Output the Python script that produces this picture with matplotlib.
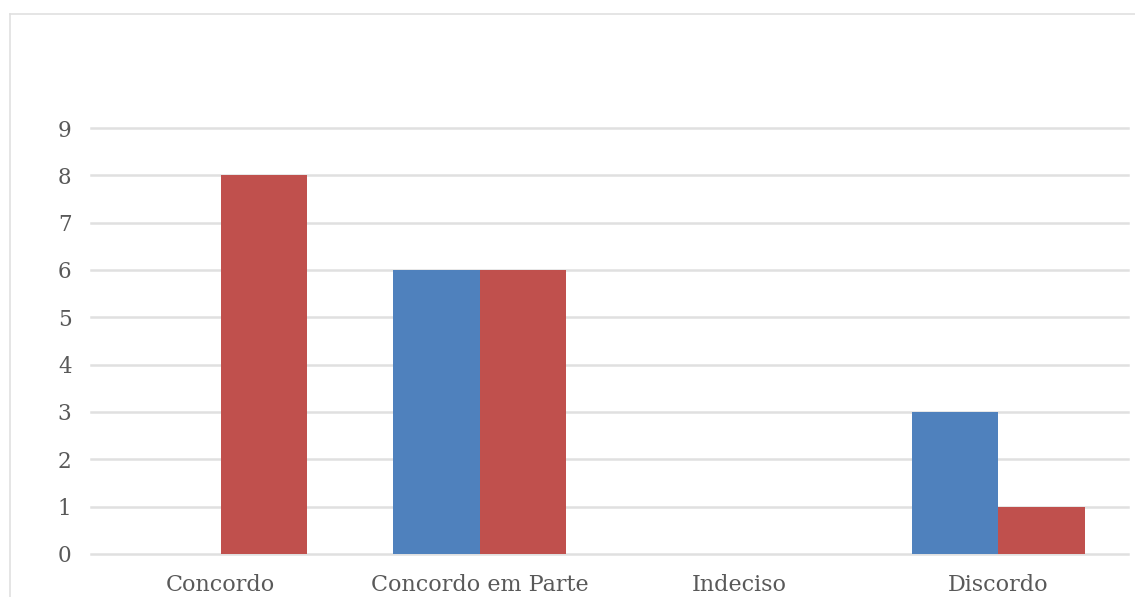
import matplotlib.pyplot as plt
from matplotlib.lines import Line2D
import numpy as np

# dados
categorias = ["Concordo", "Concordo em Parte", "Indeciso", "Discordo"]
serie_azul = [0, 6, 0, 3]
serie_vermelha = [8, 6, 0, 1]
yticks = list(range(0, 10))

azul = "#4F81BD"
vermelho = "#C0504D"
texto = "#595959"

plt.rcParams['font.family'] = ['DejaVu Serif']

fig = plt.figure(figsize=(11.35, 5.97), dpi=100)
ax = fig.add_axes([91 / 1135, 1 - 554 / 597, (1128 - 91) / 1135, (554 - 128) / 597])

x = np.arange(len(categorias))
largura = 0.3336

ax.bar(x - largura / 2, serie_azul, largura, color=azul, zorder=3)
ax.bar(x + largura / 2, serie_vermelha, largura, color=vermelho, zorder=3)

ax.set_xlim(-0.5, len(categorias) - 0.5)
ax.set_ylim(0, 9)
ax.set_yticks(yticks)
ax.set_xticks(x)
ax.set_xticklabels(categorias)

ax.grid(axis='y', color="#e0e0e0", linewidth=1.8, zorder=0)
for g in ax.get_ygridlines():
	g.set_clip_on(False)

for s in ax.spines.values():
	s.set_visible(False)

ax.tick_params(axis='y', length=0, colors=texto, labelsize=15.5, pad=14)
ax.tick_params(axis='x', length=0, colors=texto, labelsize=16, pad=14.5)

# moldura do gráfico (só topo e esquerda aparecem)
bx, by = 9.5 / 1135, 1 - 14 / 597
fig.lines.append(Line2D([bx, 1.0], [by, by], transform=fig.transFigure,
	color="#e0e0e0", linewidth=1.2))
fig.lines.append(Line2D([bx, bx], [0.0, by], transform=fig.transFigure,
	color="#e0e0e0", linewidth=1.2))

fig.savefig("out.png", dpi=100)
